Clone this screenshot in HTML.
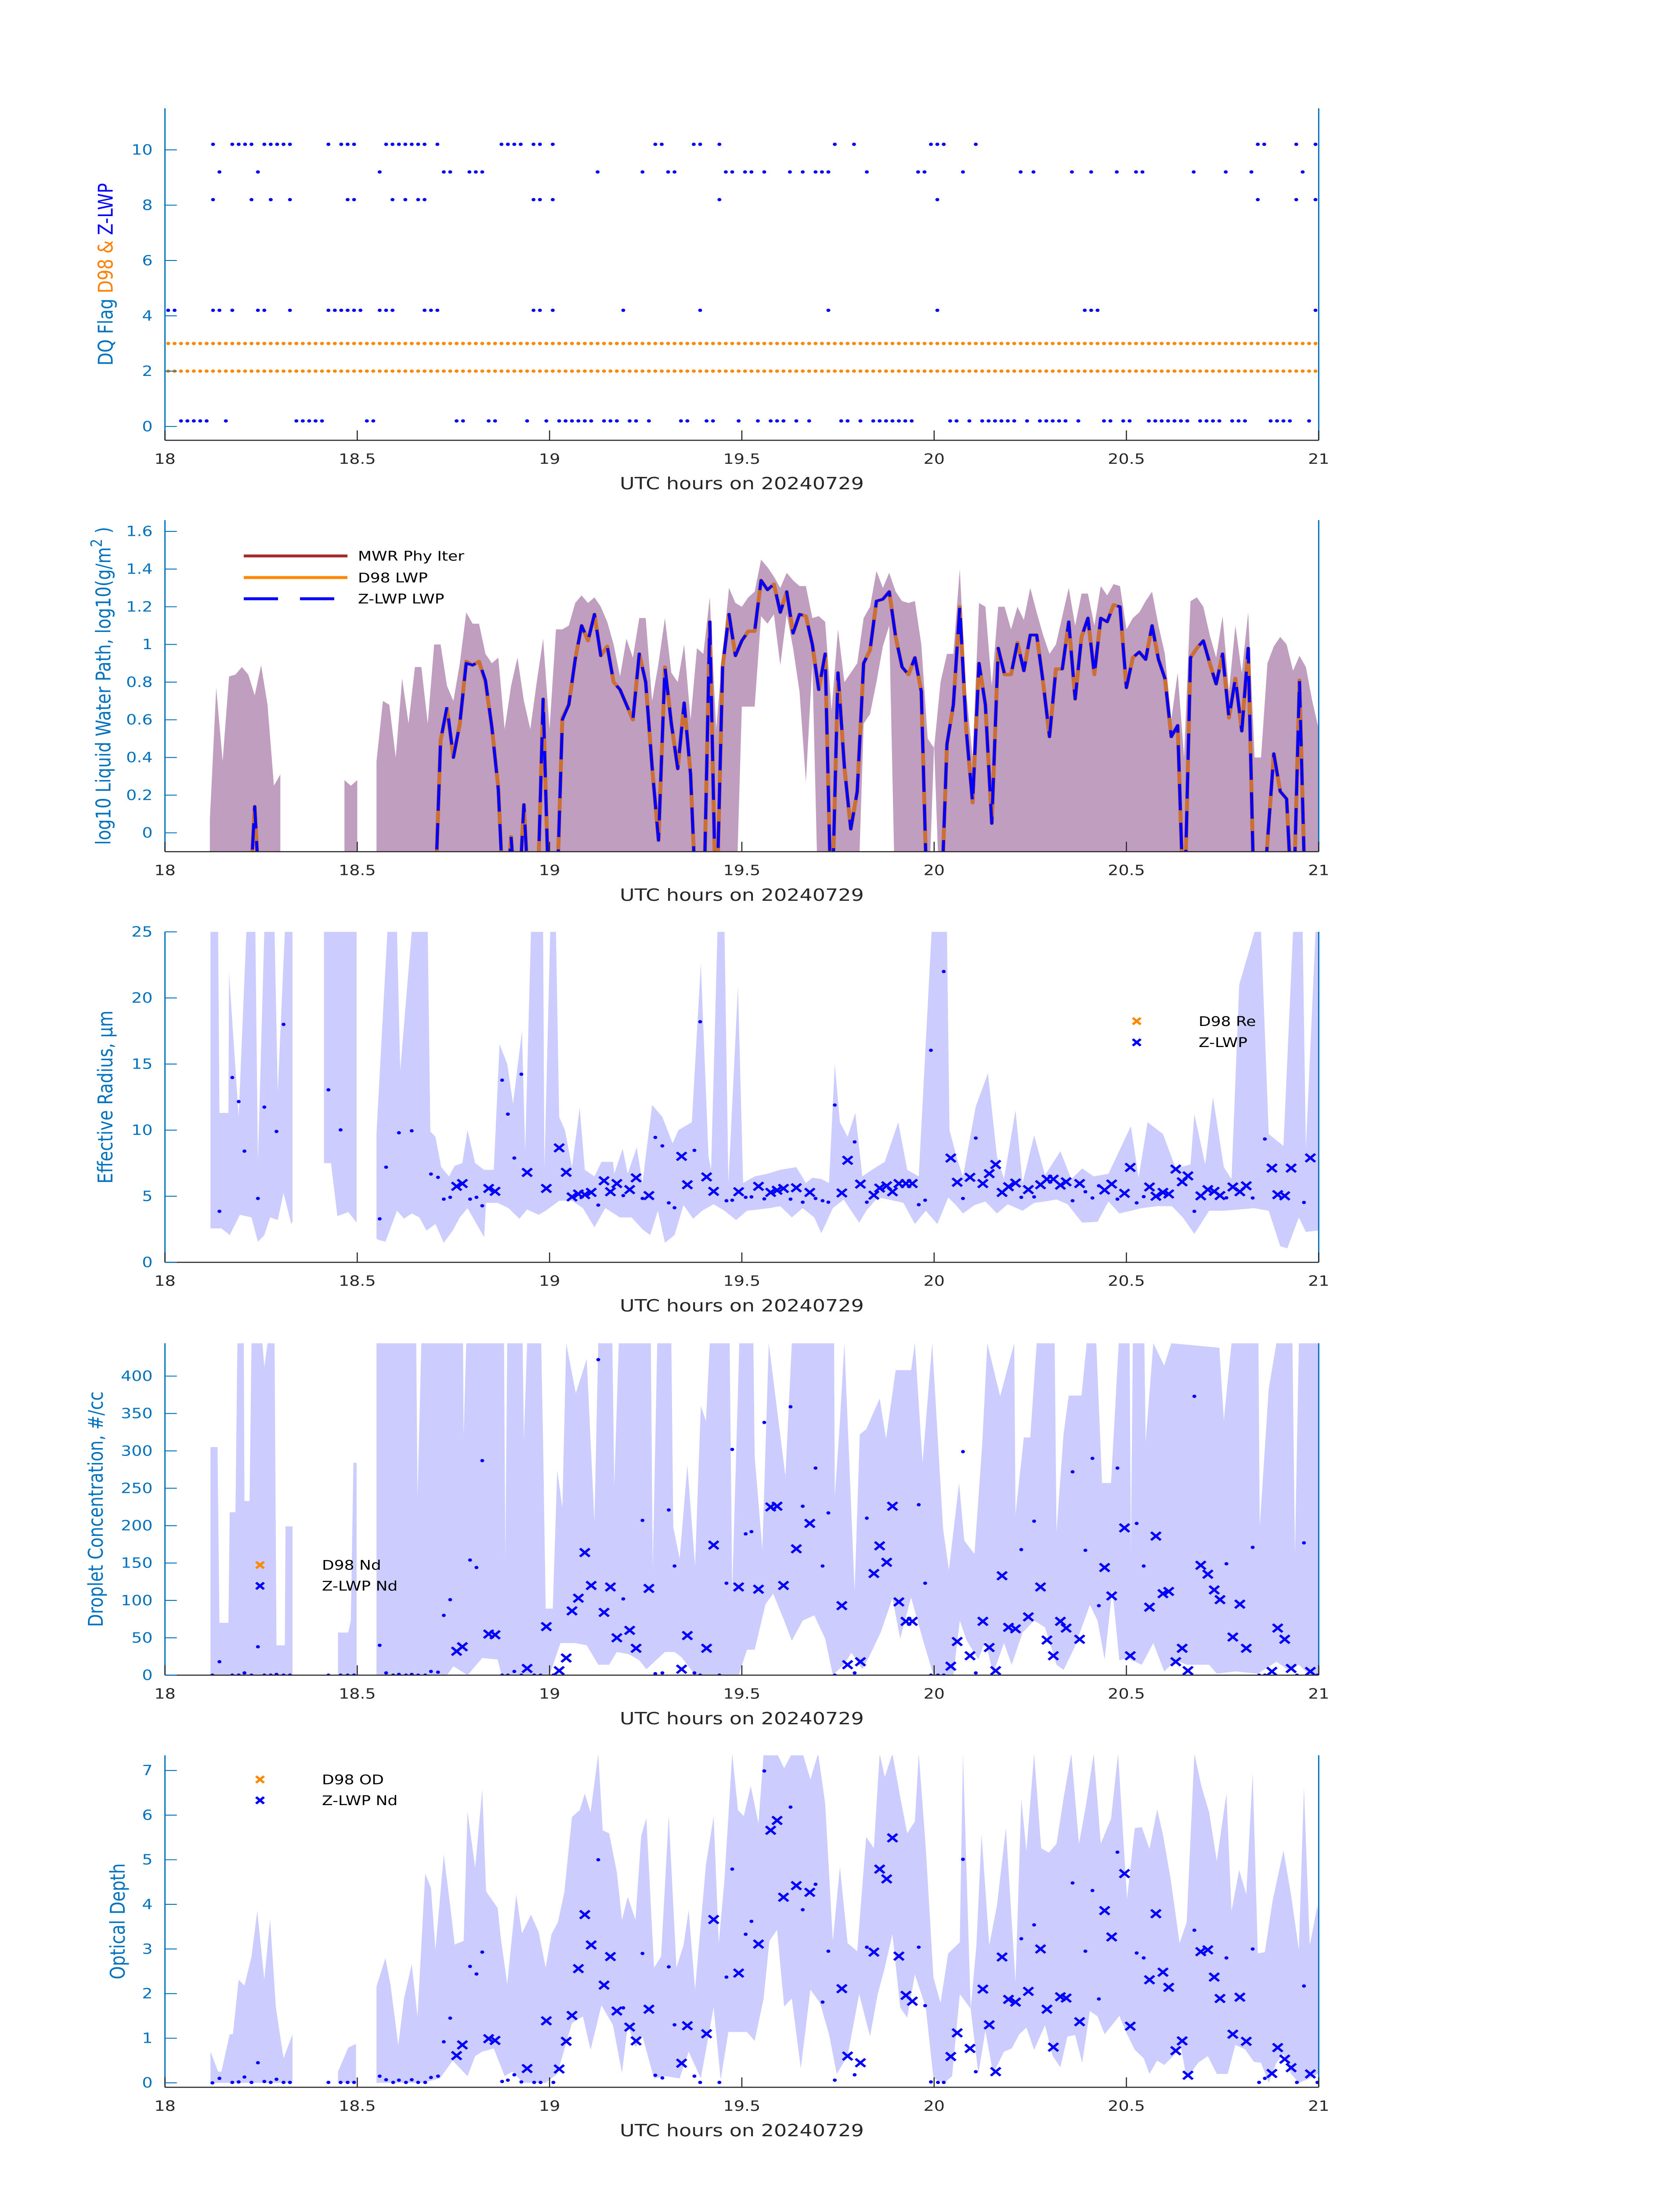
<!DOCTYPE html>
<html><head><meta charset="utf-8"><title>Cloud retrieval time series 20240729</title>
<style>
html,body{margin:0;padding:0;background:#fff;width:100%;height:100%;overflow:hidden;}
svg{display:block;position:absolute;left:0;top:0;width:100vw;height:100vh;font-family:"DejaVu Sans","Liberation Sans",sans-serif;}
</style></head>
<body>
<svg id="fig" viewBox="0 0 3825 6000" preserveAspectRatio="none" xmlns="http://www.w3.org/2000/svg">
<rect x="0" y="0" width="3825" height="6000" fill="#ffffff"/>
<defs id="defs"></defs>
</svg>
<script>
// ---------------- DATA (time in minutes after 18:00 UTC) ----------------
const xTickHours = [18,18.5,19,19.5,20,20.5,21];
const xTickLabels = ['18','18.5','19','19.5','20','20.5','21'];

// Panel 1: DQ flags
const zFlagLevels = [10.2, 9.2, 8.2, 4.2, 0.2];
const zFlag10Times = [7,10,11,12,13,15,16,17,18,19,25,27,28,29,34,35,36,37,38,39,40,42,52,53,54,55,57,58,60,76,77,82,83,86,104,107,119,120,121,126,170,171,176,179,180];
const zFlag9Times = [8,14,33,43,44,47,48,49,67,74,78,79,87,88,90,91,93,97,99,101,102,103,109,117,118,124,133,135,141,144,148,151,152,160,165,169,177];
const zFlag8Times = [7,13,16,19,28,29,35,37,39,40,57,58,60,86,120,170,176,179];
const zFlag4Times = [0,1,7,8,10,14,15,19,25,26,27,28,29,30,33,34,35,40,41,42,57,58,60,71,83,103,120,143,144,145,179,180];
const zFlag0Times = [2,3,4,5,6,9,20,21,22,23,24,31,32,45,46,50,51,56,59,61,62,63,64,65,66,68,69,70,72,73,75,80,81,84,85,89,92,94,95,96,98,100,105,106,108,110,111,112,113,114,115,116,122,123,125,127,128,129,130,131,132,134,136,137,138,139,140,142,146,147,149,150,153,154,155,156,157,158,159,161,162,163,164,166,167,168,172,173,174,175,178];
const d98FlagA = [3,3,3,3,3,3,3,3,3,3, 3,3,3,3,3,3,3,3,3,3, 3,3,3,3,3,3,3,3,3,3, 3,3,3,3,3,3,3,3,3,3, 3,3,3,3,3,3,3,3,3,3, 3,3,3,3,3,3,3,3,3,3, 3,3,3,3,3,3,3,3,3,3, 3,3,3,3,3,3,3,3,3,3, 3,3,3,3,3,3,3,3,3,3, 3,3,3,3,3,3,3,3,3,3, 3,3,3,3,3,3,3,3,3,3, 3,3,3,3,3,3,3,3,3,3, 3,3,3,3,3,3,3,3,3,3, 3,3,3,3,3,3,3,3,3,3, 3,3,3,3,3,3,3,3,3,3, 3,3,3,3,3,3,3,3,3,3, 3,3,3,3,3,3,3,3,3,3, 3,3,3,3,3,3,3,3,3,3, 3];
const d98FlagB = [2,2,2,2,2,2,2,2,2,2, 2,2,2,2,2,2,2,2,2,2, 2,2,2,2,2,2,2,2,2,2, 2,2,2,2,2,2,2,2,2,2, 2,2,2,2,2,2,2,2,2,2, 2,2,2,2,2,2,2,2,2,2, 2,2,2,2,2,2,2,2,2,2, 2,2,2,2,2,2,2,2,2,2, 2,2,2,2,2,2,2,2,2,2, 2,2,2,2,2,2,2,2,2,2, 2,2,2,2,2,2,2,2,2,2, 2,2,2,2,2,2,2,2,2,2, 2,2,2,2,2,2,2,2,2,2, 2,2,2,2,2,2,2,2,2,2, 2,2,2,2,2,2,2,2,2,2, 2,2,2,2,2,2,2,2,2,2, 2,2,2,2,2,2,2,2,2,2, 2,2,2,2,2,2,2,2,2,2, 2];

// Panel 2: log10 LWP, one value per minute (index = minute)
const zLwp = [null,null,null,null,null,null,null,null,null,null,
 null,null,null,-0.5,0.14,-0.5,null,null,null,null,
 null,null,null,null,null,null,null,null,null,null,
 null,null,null,null,null,null,null,null,null,null,
 null,null,-0.5,0.49,0.67,0.40,0.58,0.90,0.89,0.91,
 0.81,0.56,0.23,-0.5,-0.02,-0.5,0.15,-0.5,-0.5,0.71,
 -0.5,-0.5,0.60,0.68,0.92,1.10,1.02,1.16,0.94,0.99,
 0.80,0.76,0.68,0.60,0.95,0.80,0.35,-0.04,0.88,0.58,
 0.34,0.69,0.31,-0.5,-0.5,1.12,-0.5,0.88,1.16,0.94,
 1.02,1.07,1.07,1.34,1.29,1.32,1.17,1.28,1.06,1.16,
 1.15,1.00,0.76,0.95,-0.5,0.85,0.35,0.02,0.22,0.90,
 0.97,1.23,1.24,1.28,1.04,0.88,0.84,0.93,0.75,-0.5,
 -0.5,-0.5,0.47,0.68,1.20,0.55,0.16,0.90,0.68,0.05,
 0.98,0.84,0.84,1.01,0.86,1.05,1.05,0.80,0.51,0.87,
 0.87,1.12,0.71,1.04,1.14,0.84,1.14,1.12,1.21,1.20,
 0.77,0.93,0.96,0.92,1.10,0.92,0.82,0.51,0.57,-0.5,
 0.93,0.98,1.02,0.90,0.79,0.95,0.61,0.82,0.54,0.98,
 -0.5,-0.5,-0.05,0.42,0.22,0.18,-0.5,0.81,-0.5,-0.5,
 null];
const d98Lwp = [null,null,null,null,null,null,null,null,null,null,
 null,null,null,-0.5,0.14,-0.5,null,null,null,null,
 null,null,null,null,null,null,null,null,null,null,
 null,null,null,null,null,null,null,null,null,null,
 null,null,-0.5,0.49,0.66,0.40,0.58,0.91,0.89,0.91,
 0.80,0.56,0.24,-0.5,-0.02,-0.5,0.15,-0.5,-0.5,0.71,
 -0.5,-0.5,0.61,0.68,0.92,1.10,1.02,1.16,0.94,0.99,
 0.80,0.76,0.68,0.60,0.95,0.80,0.35,-0.04,0.88,0.58,
 0.34,0.69,0.31,-0.5,-0.5,1.12,-0.5,0.88,1.16,0.94,
 1.02,1.07,1.07,1.34,1.29,1.32,1.17,1.28,1.06,1.16,
 1.15,1.00,0.76,0.95,-0.5,0.85,0.35,0.02,0.22,0.90,
 0.97,1.23,1.24,1.28,1.04,0.88,0.84,0.93,0.75,-0.5,
 -0.5,-0.5,0.47,0.68,1.20,0.55,0.16,0.90,0.68,0.05,
 0.98,0.84,0.84,1.01,0.86,1.05,1.05,0.80,0.51,0.87,
 0.87,1.12,0.71,1.04,1.14,0.84,1.14,1.12,1.21,1.20,
 0.77,0.93,0.96,0.92,1.10,0.92,0.82,0.51,0.57,-0.5,
 0.93,0.98,1.02,0.90,0.79,0.95,0.61,0.82,0.54,0.98,
 -0.5,-0.5,-0.05,0.42,0.22,0.18,-0.5,0.81,-0.5,-0.5,
 null];
const lwpUpper = [null,null,null,null,null,null,null,0.07,0.77,0.38,
 0.83,0.84,0.88,0.84,0.73,0.89,0.68,0.25,0.31,null,
 null,null,null,null,null,null,null,null,0.28,0.25,
 0.28,null,null,0.38,0.70,0.68,0.40,0.82,0.58,0.88,
 0.88,0.58,1.00,1.00,0.78,0.70,0.90,1.17,1.11,1.11,
 0.95,0.90,0.93,0.55,0.78,0.93,0.70,0.55,0.80,1.03,
 0.55,1.08,1.08,1.10,1.22,1.26,1.22,1.25,1.20,1.12,
 1.00,0.83,1.03,0.93,1.14,1.14,0.70,0.90,1.14,0.85,
 0.80,1.00,0.60,0.98,0.95,1.25,0.55,0.95,1.30,1.22,
 1.20,1.25,1.28,1.45,1.41,1.36,1.30,1.38,1.34,1.31,
 1.31,1.14,1.15,1.12,0.65,1.08,0.80,0.85,0.90,1.14,
 1.20,1.39,1.30,1.38,1.28,1.23,1.22,1.23,1.00,0.50,
 0.45,0.80,0.95,0.95,1.40,0.75,0.40,1.22,1.20,0.78,
 1.20,1.20,1.08,1.20,1.13,1.30,1.17,1.05,0.95,1.00,
 1.15,1.30,1.10,1.27,1.27,1.10,1.31,1.26,1.32,1.31,
 1.08,1.14,1.17,1.23,1.28,1.10,0.95,0.60,0.85,0.40,
 1.23,1.25,1.20,1.05,0.93,1.15,0.75,1.10,0.85,1.17,
 0.40,0.40,0.90,0.99,1.04,1.00,0.86,0.94,0.88,0.70,
 0.55];
const lwpLower = [null,null,null,null,null,null,null,-0.5,-0.5,-0.5,
 -0.5,-0.5,-0.5,-0.5,-0.5,-0.5,-0.5,-0.5,-0.5,null,
 null,null,null,null,null,null,null,null,-0.5,-0.5,
 -0.5,null,null,-0.5,-0.5,-0.5,-0.5,-0.5,-0.5,-0.5,
 -0.5,-0.5,-0.5,-0.5,-0.5,-0.5,-0.5,-0.5,-0.5,-0.5,
 -0.5,-0.5,-0.5,-0.5,-0.5,-0.5,-0.5,-0.5,-0.5,-0.5,
 -0.5,-0.5,-0.5,-0.5,-0.5,-0.5,-0.5,-0.5,-0.5,-0.5,
 -0.5,-0.5,-0.5,-0.5,-0.5,-0.5,-0.5,-0.5,-0.5,-0.5,
 -0.5,-0.5,-0.5,-0.5,-0.5,-0.5,-0.5,-0.5,-0.5,-0.5,
 0.67,0.67,0.67,1.15,1.11,1.16,0.89,1.16,0.98,0.75,
 0.27,0.90,-0.5,-0.5,-0.5,-0.5,-0.5,-0.5,-0.5,0.58,
 0.63,0.80,0.99,1.10,-0.5,-0.5,-0.5,-0.5,-0.5,-0.5,
 0.47,-0.5,-0.5,-0.5,-0.5,-0.5,-0.5,-0.5,-0.5,-0.5,
 -0.5,-0.5,-0.5,-0.5,-0.5,-0.5,-0.5,-0.5,-0.5,-0.5,
 -0.5,-0.5,-0.5,-0.5,-0.5,-0.5,-0.5,-0.5,-0.5,-0.5,
 -0.5,-0.5,-0.5,-0.5,-0.5,-0.5,-0.5,-0.5,-0.5,-0.5,
 -0.5,-0.5,-0.5,-0.5,-0.5,-0.5,-0.5,-0.5,-0.5,-0.5,
 -0.5,-0.5,-0.5,-0.5,-0.5,-0.5,-0.5,-0.5,-0.5,-0.5,
 -0.5];

// Panels 3-5: Z-LWP retrieval crosses share these times
const crossTimes = [45.5,46.4,50.5,51.5,56.5,59.5,61.5,62.6,63.5,64.5,65.5,66.5,68.5,69.5,70.5,72.5,73.5,75.5,80.6,81.5,84.5,85.6,89.5,92.6,94.5,95.5,96.5,98.5,100.6,105.6,106.5,108.5,110.6,111.5,112.6,113.5,114.5,115.6,116.6,122.6,123.6,125.6,127.6,128.6,129.6,130.6,131.6,132.7,134.7,136.6,137.6,138.6,139.7,140.6,142.7,146.6,147.7,149.7,150.6,153.6,154.6,155.7,156.6,157.7,158.7,159.6,161.6,162.7,163.7,164.6,166.6,167.7,168.7,172.7,173.6,174.7,175.7,178.7];
const reCross = [5.75,5.96,5.59,5.37,6.8,5.59,8.66,6.81,4.95,5.17,5.12,5.29,6.17,5.34,5.96,5.5,6.39,5.05,8.02,5.87,6.46,5.37,5.34,5.75,5.29,5.45,5.59,5.64,5.29,5.25,7.72,5.92,5.08,5.62,5.79,5.34,5.96,5.96,5.96,7.89,6.06,6.43,5.96,6.71,7.4,5.29,5.72,6.0,5.5,5.87,6.29,6.29,5.84,6.09,5.96,5.47,5.92,5.22,7.18,5.70,5.0,5.29,5.17,7.05,6.09,6.54,5.03,5.5,5.37,5.05,5.7,5.34,5.79,7.13,5.12,5.03,7.13,7.9];
const ndCross = [32,38,55,54,9,65,6,23,86,103,164,120,84,118,50,60,36,116,8,53,36,174,118,115,225,226,120,169,203,93,14,18,136,173,151,226,98,72,72,12,45,26,72,37,6,133,64,62,78,118,47,26,72,63,48,144,106,197,26,91,186,109,112,18,36,6,147,135,114,101,51,95,36,5,63,48,9,5];
const odCross = [0.61,0.85,0.99,0.95,0.32,1.39,0.31,0.93,1.51,2.56,3.77,3.09,2.19,2.83,1.61,1.25,0.94,1.65,0.44,1.28,1.10,3.66,2.46,3.11,5.66,5.88,4.16,4.42,4.27,2.11,0.6,0.45,2.93,4.79,4.57,5.49,2.84,1.96,1.83,0.59,1.12,0.77,2.1,1.30,0.25,2.82,1.87,1.81,2.05,3.0,1.65,0.8,1.93,1.90,1.37,3.86,3.27,4.69,1.27,2.31,3.79,2.48,2.14,0.72,0.94,0.17,2.94,2.98,2.37,1.89,1.09,1.92,0.93,0.21,0.79,0.53,0.34,0.2];

// Small dots (low-quality retrievals)
const reDotTimes = [8.5,10.5,11.5,12.4,14.5,15.5,17.4,18.5,25.5,27.4,33.5,34.5,36.5,38.5,41.5,42.6,43.5,44.5,47.6,48.6,49.5,52.6,53.5,54.5,55.6,67.6,71.5,74.5,76.5,77.6,78.6,79.5,82.6,83.5,87.6,88.5,90.6,91.5,93.5,97.6,99.5,101.5,102.6,103.5,104.5,107.6,109.5,117.6,118.6,119.5,121.5,124.5,126.5,133.6,135.6,141.6,143.6,144.7,145.7,148.6,151.6,152.7,160.6,165.6,169.7,171.6,177.7,180.6];
const reDot = [3.86,13.98,12.16,8.41,4.83,11.74,9.9,18.0,13.05,10.02,3.29,7.2,9.8,9.95,6.68,6.43,4.78,4.92,4.78,4.92,4.28,13.78,11.21,7.89,14.23,4.33,5.05,4.83,9.45,8.81,4.5,4.13,8.47,18.2,4.66,4.70,4.92,4.95,4.8,4.78,4.55,4.83,4.66,4.55,11.9,9.11,4.55,4.36,4.70,16.04,22.0,4.83,9.4,4.92,4.95,4.66,5.34,4.87,5.79,4.78,4.5,4.97,3.86,4.88,4.87,9.33,4.53,22.25];
const dotTimes = [7.4,8.5,10.5,11.5,12.4,13.5,14.5,15.5,16.5,17.4,18.5,19.5,25.5,27.4,28.5,29.5,33.5,34.5,35.6,36.5,37.6,38.5,39.5,40.6,41.5,42.6,43.5,44.5,47.6,48.6,49.5,52.6,53.5,54.5,55.6,57.6,58.6,60.6,67.6,71.5,74.5,76.5,77.6,78.6,79.5,82.6,83.5,86.5,87.6,88.5,90.6,91.5,93.5,97.6,99.5,101.5,102.6,103.5,104.5,107.6,109.5,117.6,118.6,119.5,120.6,121.5,124.5,126.5,133.6,135.6,141.6,143.6,144.7,145.7,148.6,151.6,152.7,160.6,165.6,169.7,170.7,171.6,176.6,177.7,179.8,180.6];
const ndDot = [0,18,0,0,3,0,38,0,0,1,0,0,0,0,0,0,40,3,0,1,0,1,0,0,5,4,80,101,154,144,287,0,0,5,0,0,0,0,422,102,207,2,3,221,146,3,0,0,123,302,189,192,338,359,226,277,146,217,0,3,210,228,123,0,0,0,299,3,168,206,272,167,290,93,277,203,146,373,149,171,0,0,0,177,0,0];
const odDot = [0,0.1,0.01,0.02,0.13,0.01,0.45,0.03,0.01,0.08,0.01,0.01,0.01,0.01,0.01,0.01,0.15,0.07,0.01,0.06,0.01,0.07,0.01,0.01,0.12,0.15,0.92,1.45,2.61,2.44,2.93,0.03,0.06,0.18,0.02,0.01,0.01,0.01,5.0,1.68,2.9,0.17,0.11,2.6,1.3,0.15,0.01,0.01,2.37,4.79,3.33,3.62,6.99,6.18,3.88,4.45,1.81,2.95,0.06,0.18,3.04,3.04,1.73,0.02,0.01,0.01,5.01,0.25,3.23,3.54,4.48,2.95,4.31,1.88,5.17,2.91,2.8,3.42,2.8,3.0,0.01,0.1,0.01,2.17,0.01,0.01];

// Uncertainty bands [time, value]
const bandSegments = [[7.1,19.9],[24.8,29.9],[33,180.5]];
const reUpper = [[7.1,25],[8.3,25],[8.5,11.3],[9.9,11.3],[10,21.9],[11.5,11],[12.7,25],[14.1,25],[14.5,7.6],[15.5,25],[17.1,25],[17.6,12.9],[18.7,25],[19.9,25],
 [24.8,25],[29.9,25],
 [33,9.75],[34.7,25],[36.2,25],[36.7,14.5],[38.5,25],[41,25],[41.4,9.9],[42.2,9.5],[43.1,7.2],[44.3,6.5],[45.2,7.3],[46.4,7.5],[47.2,10],[48.4,7.5],[49.8,7],[51.3,7.0],[52.2,16.5],[53.4,15],[54.3,12],[55.7,17.5],[56.2,8.4],[57.1,25],[59,25],[59.2,7],[60.1,25],[61,25],[61.5,11],[62.4,10],[63.5,7.2],[64.7,11.7],[65.5,7.0],[67,6.5],[68.1,7.6],[69.9,7.6],[70.1,6.7],[71.4,8.6],[72.2,6.7],[73.6,8.7],[74.5,6],[76,11.9],[77.6,11],[79.2,9],[80.1,10],[82.2,10.6],[83.6,22.6],[84.8,8],[85.2,7],[86.2,25],[87.3,25],[87.9,6.0],[89.4,20.9],[90.2,6.0],[92,6.5],[94,6.7],[96,7.0],[98.5,7.2],[100,6.0],[101,6.4],[102.4,6.3],[103.6,6.0],[104.5,15],[105.3,10.6],[106.5,9.5],[107.7,11.3],[108.8,6.5],[110.3,7.0],[112.3,7.6],[114.4,10.6],[115.8,7.0],[117.6,6.5],[119.6,25],[122,25],[122.4,10],[123.6,7.8],[124.5,6.5],[126.5,11.8],[128.4,14.3],[129.8,8],[130.9,6.3],[132.7,11.5],[133.8,6.0],[135.6,9.6],[137.3,6.6],[139.7,8.4],[141.4,6.3],[143.1,7.1],[144.9,6.5],[147.2,6.7],[150.7,10.3],[151.9,6.4],[153.3,10.6],[155.7,9.7],[157.7,7.1],[160,7.4],[160.6,11.2],[162.3,7.4],[163.5,12.5],[165.2,7.2],[166.4,6.3],[167.6,21],[170,25],[171,25],[172.2,9.7],[174.5,8.8],[176,25],[177.5,25],[178,8.6],[179.5,25],[180.5,25]];
const reLower = [[7.1,2.57],[8.8,2.57],[10.1,2.06],[11.7,3.6],[13.5,3.4],[14.5,1.56],[15.5,2.06],[16.4,3.4],[17.6,3.2],[18.5,5.25],[19.7,2.9],
 [24.8,7.5],[25.9,7.5],[26.9,3.5],[28.6,3.8],[29.8,3.07],
 [33.3,1.7],[34.4,1.56],[36.2,3.9],[37.3,3.3],[38.5,3.7],[39.7,3.4],[40.8,2.4],[42.2,2.9],[43.5,1.48],[44.9,2.4],[46,3.4],[47.2,4.1],[49.8,1.9],[50.1,4.5],[51.9,4.5],[53.6,4.1],[55.3,3.3],[56.5,4.0],[58.3,3.6],[59.4,3.9],[61.5,4.66],[63.5,4.66],[65.2,4.1],[67,2.65],[68.7,4.1],[71,3.4],[72.8,3.4],[74.5,2.5],[75.7,2.06],[76.9,3.9],[78,1.48],[79.5,2.06],[80.9,4.33],[82.4,3.3],[83.8,3.9],[85.6,4.4],[87.3,3.9],[89.1,3.2],[90.8,3.9],[92.6,4.0],[94.3,4.1],[96,4.25],[97.8,3.4],[99.5,4.1],[101.3,3.4],[102.4,2.2],[104.2,4.1],[105.9,4.75],[108.3,3.0],[109.4,3.9],[111.2,4.9],[112.9,4.75],[115.2,4.5],[117,2.9],[118.7,3.9],[120.5,2.9],[122.2,4.9],[123.4,4.33],[124.5,3.7],[126.3,4.33],[128,4.6],[129.8,3.7],[131.5,4.4],[133.8,3.9],[135.6,4.5],[137.3,4.6],[139.1,4.75],[140.8,4.4],[143.1,3.0],[145.5,3.07],[147.2,4.6],[148.9,3.7],[150.7,3.9],[152.4,4.1],[154.8,4.25],[157.1,4.25],[158.8,3.4],[160.6,2.15],[162.9,3.9],[165.2,3.9],[167.6,4.0],[169.9,4.1],[172.2,3.9],[174,1.22],[175.1,1.06],[176.9,3.4],[178,2.3],[179.8,2.4],[180.5,2.4]];
const ndSegments = [[7.1,19.9],[27,29.9],[33,180.5]];
const ndUpper = [[7.1,305],[8.2,305],[8.5,70],[9.9,70],[10.1,218],[11,218],[11.3,444],[12.3,444],[12.4,233],[13.2,233],[13.5,444],[15.2,444],[15.5,412],[16,444],[17.1,444],[17.4,40],[18.7,40],[18.8,199],[19.9,199],
 [27,57],[28.6,57],[29,73],[29.4,284],[29.9,284],
 [33,444],[39.2,444],[39.4,238],[40,444],[46.5,444],[46.6,320],[47,444],[52.9,444],[53.1,155],[53.4,444],[55.8,444],[56,315],[56.5,444],[58.7,444],[59,308],[59.4,89],[60.5,89],[61.2,274],[62,224],[62.6,444],[64.1,377],[65.8,423],[67,205],[67.6,444],[69.8,444],[70.1,253],[70.8,444],[75.8,444],[76.1,142],[76.8,444],[79,444],[79.3,198],[80.3,156],[81.5,281],[82.7,146],[83.6,360],[84.4,340],[85,444],[88.1,444],[88.5,112],[89.6,444],[91.8,444],[92,293],[93.2,168],[94.2,444],[96.8,266],[97.8,444],[104.4,444],[104.5,239],[105.2,325],[106,444],[107.6,112],[108.4,322],[109.4,329],[111.5,370],[112.5,316],[114,408],[116.4,408],[117,444],[118.2,284],[119.7,444],[121.4,196],[122.3,141],[123.9,257],[124.7,180],[126.3,162],[127.5,309],[128.3,444],[130.3,373],[132.5,444],[132.7,215],[134,318],[135,318],[136,444],[138.8,444],[139.1,192],[140.2,323],[141,374],[143,374],[143.8,444],[145.3,444],[146.2,257],[147.6,257],[148.8,444],[150.5,444],[150.7,165],[151,444],[152.8,444],[153,312],[154.2,444],[155.9,414],[157,444],[164.5,438],[165.2,341],[166.4,444],[170.6,444],[170.8,198],[172.2,383],[173.4,444],[175.9,444],[176.3,162],[176.9,444],[180.5,444]];
const ndLower = [[7.1,0],[19.9,0],[27,0],[29.9,0],[33,0],[44,0],[45,12],[47.2,0],[49.5,23],[51.9,21],[52.5,0],[60,0],[61.7,43],[64,43],[65.8,40],[67.6,14],[69.3,14],[70.5,31],[72.4,28],[74,20],[75.1,8],[78,31],[79.5,31],[80.6,24],[82.7,0],[89.5,0],[90.8,34],[92,34],[93.7,95],[94.9,109],[96.6,73],[97.8,46],[99.5,73],[101.3,80],[103,49],[104.2,0],[105.9,14],[107.1,30],[108.8,8],[110,27],[111.7,58],[113.5,103],[114.7,49],[116.4,104],[118.2,49],[119.9,0],[123,0],[124,73],[125.1,46],[126.9,21],[128,46],[129.2,2],[130.9,43],[132.1,14],[133.8,57],[135.6,73],[137.3,64],[139.1,14],[140.2,7],[141.9,37],[144.3,94],[145.5,73],[146.6,21],[147.8,115],[148.9,20],[150.1,23],[152.4,14],[154.2,43],[155.9,5],[157.7,20],[159.4,14],[161.2,14],[162.9,14],[164.1,2],[167,5],[170.5,2],[173.4,18],[175.1,8],[176.9,14],[178.6,0],[180.5,0]];
const odSegments = [[7.1,19.9],[27,29.8],[33,180.5]];
const odUpper = [[7.1,0.7],[8.3,0.25],[8.8,0.25],[10.1,1.09],[10.6,1.09],[11.5,2.31],[12.4,2.18],[13.5,2.83],[14.4,3.85],[15.5,2.31],[16.4,3.67],[17.3,1.69],[18.5,0.55],[19.9,1.09],
 [27,0.25],[28.6,0.79],[29.8,0.87],
 [33,2.16],[34.4,2.8],[35.2,2.18],[36.4,0.84],[37.3,1.89],[38.5,2.66],[39.4,1.49],[40.6,4.69],[41.5,4.37],[42.2,2.98],[43.5,5.11],[44.5,3.97],[45.2,3.1],[46.6,3.18],[47.2,6.08],[48.4,4.82],[49.5,6.58],[50.1,4.29],[51.9,3.92],[52.4,3.24],[53.4,2.21],[54.8,4.22],[55.7,3.35],[57.1,3.77],[58.3,3.38],[59.4,2.58],[60.3,3.33],[61.3,3.6],[62.3,4.27],[63.5,5.96],[64.7,6.11],[65.5,6.48],[66.4,6.06],[67.6,7.38],[68.3,5.66],[69.3,5.59],[70.5,4.72],[71.3,3.65],[72.2,4.17],[73.4,3.65],[74.3,5.54],[75.1,5.93],[76.3,2.58],[77.4,2.83],[78.6,5.99],[79.8,2.58],[80.9,3.08],[81.7,3.87],[82.7,2.09],[84.4,4.89],[85.6,5.97],[86.4,3.13],[87.3,4.57],[88.5,7.38],[89.4,6.11],[90.3,5.98],[91.4,6.65],[92.6,5.81],[93.4,7.38],[95.5,7.38],[96.6,7.05],[97.8,7.38],[99.5,7.38],[100.7,6.8],[101.9,7.38],[103,6.26],[104.2,3.18],[105.3,4.84],[106.5,3.13],[108,2.95],[109.4,5.51],[110.6,5.26],[111.5,7.38],[112.3,6.85],[113.5,7.38],[114.7,6.41],[115.8,5.59],[117,5.86],[117.6,7.38],[118.7,5.26],[119.9,2.36],[121,1.79],[122.2,2.9],[124,3.15],[124.5,7.38],[125.7,1.66],[126.6,3.08],[127.4,5.57],[128.6,3.08],[129.8,3.97],[131.2,5.71],[132.7,2.26],[133.6,6.36],[134.4,5.19],[135.6,7.38],[136.7,5.26],[137.9,5.16],[139.1,5.36],[140.2,6.38],[141.4,7.38],[142.6,5.36],[143.7,6.23],[144.9,7.38],[146,5.36],[147.6,5.92],[148.7,7.38],[150.1,4.12],[151.3,5.71],[152.4,5.73],[153.6,5.24],[154.8,6.13],[155.7,5.56],[156.9,4.57],[158.3,3.13],[159.4,3.6],[160.6,7.38],[161.7,6.65],[162.9,6.06],[164.1,4.97],[165.6,6.48],[166.4,3.85],[167.6,4.77],[168.7,4.22],[169.7,6.94],[170.5,2.9],[171.6,2.93],[172.8,4.07],[174.5,5.21],[175.7,4.2],[176.9,2.98],[177.7,6.63],[178.6,3.08],[179.8,3.97],[180.5,3.0]];
const odLower = [[7.1,0],[19.9,0],[27,0],[29.8,0],[33,0],[40.2,0],[42.9,0.1],[44.9,0.5],[47.2,0.15],[48.4,0.6],[49.5,0.7],[51.3,0.77],[53,0.15],[54.2,0.25],[55.9,0],[59.4,0],[61.2,0.2],[63.5,1.34],[65.2,1.49],[66.4,0.74],[68.1,1.74],[69.9,1.29],[71.3,0.22],[72.2,1.29],[73.4,0.8],[74.5,1.04],[76.3,0.1],[78,0.15],[80.3,0.1],[81.7,0.7],[83.6,0.1],[85.6,1.69],[86.7,0.07],[87.9,1.14],[90.8,1.14],[92,0.94],[93.4,1.89],[94.3,3.18],[95.5,3.43],[96.6,1.71],[97.8,1.89],[99.2,0.32],[100.7,2.09],[102.2,1.79],[103.6,1.09],[104.8,0.2],[106.5,0.6],[108.3,1.99],[110,1.04],[111.2,1.99],[112.3,2.58],[113.5,3.33],[114.7,1.69],[115.8,1.46],[117,2.43],[118.7,1.69],[119.9,0.1],[121.6,0],[122.8,0.15],[124,1.99],[125.7,1.66],[126.9,0.2],[128,1.17],[129.2,0.2],[130.9,0.7],[132.1,0.77],[133.3,1.09],[134.4,1.24],[135.6,0.74],[137.3,1.29],[138.5,0.6],[139.7,0.35],[140.8,1.04],[142,1.07],[143.1,0.45],[144.3,1.61],[145.5,1.49],[146.6,1.09],[148.9,1.5],[150.1,1.09],[151.3,0.74],[152.7,0.55],[153.6,0.2],[154.8,0.5],[155.9,0.4],[157.3,0.6],[158.5,0.8],[159.4,0.1],[161.2,0.45],[162.7,0.6],[164.1,0.2],[165.8,0.2],[167,0.85],[168.5,0.75],[169.9,0.47],[171,0.45],[172.2,0],[173.4,0.45],[174.5,0.65],[175.7,0.2],[176.9,0],[178.6,0.1],[179.8,0.2],[180.5,0.2]];

// ---------------- DRAWING ----------------
const NS = 'http://www.w3.org/2000/svg';
const svg = document.getElementById('fig');
const defs = document.getElementById('defs');
function mk(tag, attrs, parent) {
  const e = document.createElementNS(NS, tag);
  for (const k in attrs) e.setAttribute(k, attrs[k]);
  (parent || svg).appendChild(e);
  return e;
}
const X0 = 375.6, X1 = 3002.4, TMAX = 180;
function xOf(m) { return X0 + (m / TMAX) * (X1 - X0); }
function xOfHour(h) { return xOf((h - 18) * 60); }
const AX_BLUE = '#0072BD', DARK = '#262626';
const TICK_FS = 38, LABEL_FS = 46;

function setupPanel(p) {
  const yOf = v => p.bot - (v - p.lo) / (p.hi - p.lo) * (p.bot - p.top);
  const g = mk('g', {});
  
  
  const cp = mk('clipPath', {id: 'clip-' + p.name}, defs);
  mk('rect', {x: X0, y: p.top, width: X1 - X0, height: p.bot - p.top}, cp);
  const plot = mk('g', {'clip-path': 'url(#clip-' + p.name + ')'}, g);
  
  
  const axg = mk('g', {}, g);
  
  
  return {g, plot, axg, yOf};
}
function drawAxes(p, P) {
  const {axg, yOf} = P;
  const xa = mk('line', {x1: X0, y1: p.bot, x2: X1, y2: p.bot, stroke: DARK, 'stroke-width': 3}, axg);
  
  
  const ya = mk('line', {x1: X0, y1: p.top, x2: X0, y2: p.bot, stroke: AX_BLUE, 'stroke-width': 3}, axg);
  
  
  const yr = mk('line', {x1: X1, y1: p.top, x2: X1, y2: p.bot, stroke: AX_BLUE, 'stroke-width': 3}, axg);
  
  
  xTickHours.forEach((h, i) => {
    const x = xOfHour(h);
    const t = mk('line', {x1: x, y1: p.bot, x2: x, y2: p.bot - 27, stroke: DARK, 'stroke-width': 2.5}, axg);
    
    
    const l = mk('text', {x: x, y: p.bot + 64, 'text-anchor': 'middle', 'font-size': TICK_FS, fill: DARK}, axg);
    l.textContent = xTickLabels[i];
    
    
  });
  p.yTicks.forEach((v, i) => {
    const y = yOf(v);
    const t = mk('line', {x1: X0, y1: y, x2: X0 + 27, y2: y, stroke: AX_BLUE, 'stroke-width': 2.5}, axg);
    
    
    const l = mk('text', {x: X0 - 28, y: y + 13, 'text-anchor': 'end', 'font-size': TICK_FS, fill: AX_BLUE}, axg);
    l.textContent = p.yTickLabels[i];
    
    
  });
  const xl = mk('text', {x: (X0 + X1) / 2, y: p.bot + 134, 'text-anchor': 'middle', 'font-size': LABEL_FS, fill: DARK}, axg);
  xl.textContent = 'UTC hours on 20240729';
  
  
  const cy = (p.top + p.bot) / 2;
  const yl = mk('text', {x: 0, y: 0, transform: 'translate(' + p.ylabelX + ',' + cy + ') rotate(-90)', 'text-anchor': 'middle', 'dominant-baseline': 'central', 'font-size': LABEL_FS, fill: AX_BLUE}, axg);
  
  
  p.ylabel(yl);
}
function tspan(parent, txt, attrs) {
  const s = mk('tspan', attrs || {}, parent);
  s.textContent = txt;
  return s;
}
function dot(parent, x, y, r, fill, name) {
  const c = mk('circle', {cx: x, cy: y, r: r, fill: fill}, parent);
  
  
  return c;
}
function cross(parent, x, y, s, color, name) {
  const c = mk('path', {d: 'M' + (x - s) + ' ' + (y - s) + 'L' + (x + s) + ' ' + (y + s) + 'M' + (x - s) + ' ' + (y + s) + 'L' + (x + s) + ' ' + (y - s), stroke: color, 'stroke-width': 6, fill: 'none'}, parent);
  
  
  return c;
}
function interp(list, t) {
  if (t <= list[0][0]) return list[0][1];
  for (let i = 1; i < list.length; i++) {
    if (t <= list[i][0]) {
      const a = list[i - 1], b = list[i];
      const f = (t - a[0]) / ((b[0] - a[0]) || 1);
      return a[1] + f * (b[1] - a[1]);
    }
  }
  return list[list.length - 1][1];
}
function pairBand(parent, upper, lower, segs, yOf, color, name) {
  segs.forEach(seg => {
    const up = upper.filter(q => q[0] >= seg[0] && q[0] <= seg[1]);
    if (!up.length) return;
    const a = up[0][0], b = up[up.length - 1][0];
    const lo = [[a, interp(lower, a)]].concat(lower.filter(q => q[0] > a && q[0] < b)).concat([[b, interp(lower, b)]]);
    let d = up.map((q, i) => (i ? 'L' : 'M') + xOf(q[0]).toFixed(1) + ' ' + yOf(q[1]).toFixed(1)).join('');
    for (let i = lo.length - 1; i >= 0; i--) d += 'L' + xOf(lo[i][0]).toFixed(1) + ' ' + yOf(lo[i][1]).toFixed(1);
    const e = mk('path', {d: d + 'Z', fill: color, stroke: 'none'}, parent);
    
    
  });
}

// ---------- Panel 1 ----------
(function () {
  const p = {name: 'dq-flag', top: 296, bot: 1203, lo: -0.5, hi: 11.5, yTicks: [0, 2, 4, 6, 8, 10], yTickLabels: ['0', '2', '4', '6', '8', '10'], ylabelX: 240,
    ylabel: t => { tspan(t, 'DQ Flag  ', {fill: AX_BLUE}); tspan(t, 'D98 & ', {fill: '#FF8000'}); tspan(t, ' Z-LWP', {fill: '#0000FF'}); }};
  const P = setupPanel(p);
  d98FlagA.forEach((v, m) => dot(P.plot, xOf(m + 0.5), P.yOf(v), 4.5, '#FF8800', 'd98-flag-point'));
  d98FlagB.forEach((v, m) => dot(P.plot, xOf(m + 0.5), P.yOf(v), 4.5, '#FF8800', 'd98-flag-point'));
  const lists = [zFlag10Times, zFlag9Times, zFlag8Times, zFlag4Times, zFlag0Times];
  lists.forEach((lst, k) => lst.forEach(m => dot(P.plot, xOf(m + 0.5), P.yOf(zFlagLevels[k]), 4.5, '#0000FF', 'z-lwp-flag-point')));
  drawAxes(p, P);
})();

// ---------- Panel 2 ----------
(function () {
  const p = {name: 'lwp', top: 1421, bot: 2327, lo: -0.1, hi: 1.66, yTicks: [0, 0.2, 0.4, 0.6, 0.8, 1, 1.2, 1.4, 1.6], yTickLabels: ['0', '0.2', '0.4', '0.6', '0.8', '1', '1.2', '1.4', '1.6'], ylabelX: 235,
    ylabel: t => { tspan(t, 'log10 Liquid Water Path, log10(g/m'); tspan(t, '2', {dy: -16, 'font-size': 36}); tspan(t, ' )', {dy: 16}); }};
  const P = setupPanel(p);
  let run = [];
  const flush = () => {
    if (run.length) {
      let d = run.map((m, i) => (i ? 'L' : 'M') + xOf(m).toFixed(1) + ' ' + P.yOf(lwpUpper[m]).toFixed(1)).join('');
      for (let i = run.length - 1; i >= 0; i--) d += 'L' + xOf(run[i]).toFixed(1) + ' ' + P.yOf(lwpLower[run[i]]).toFixed(1);
      const e = mk('path', {d: d + 'Z', fill: '#C09EBF'}, P.plot);
      
      
    }
    run = [];
  };
  lwpUpper.forEach((v, m) => { if (v === null) flush(); else run.push(m); });
  flush();
  function linePath(arr) {
    let d = '', pen = false;
    arr.forEach((v, m) => {
      if (v === null) { pen = false; return; }
      d += (pen ? 'L' : 'M') + xOf(m).toFixed(1) + ' ' + P.yOf(v).toFixed(1);
      pen = true;
    });
    return d;
  }
  const od = mk('path', {d: linePath(d98Lwp), fill: 'none', stroke: '#CC6F35', 'stroke-width': 9, 'stroke-linejoin': 'round', 'stroke-linecap': 'round'}, P.plot);
  
  
  const zl = mk('path', {d: linePath(zLwp), fill: 'none', stroke: '#0000FF', 'stroke-width': 7, 'stroke-dasharray': '72 34', 'stroke-linejoin': 'round'}, P.plot);
  
  
  drawAxes(p, P);
  const lg = mk('g', {});
  
  
  const items = [['MWR Phy Iter', '#A52A2A', null], ['D98 LWP', '#FF8800', null], ['Z-LWP LWP', '#0000FF', '78 50']];
  const ys = [1519, 1578, 1636];
  items.forEach((it, i) => {
    const a = {x1: 555, y1: ys[i], x2: 791, y2: ys[i], stroke: it[1], 'stroke-width': 8};
    if (it[2]) a['stroke-dasharray'] = it[2];
    const l = mk('line', a, lg);
    
    
    const t = mk('text', {x: 815, y: ys[i] + 13, 'font-size': 36, fill: '#000'}, lg);
    t.textContent = it[0];
    
    
  });
})();

// ---------- Panels 3-5 ----------
function retrievalPanel(p, upper, lower, segs, dTimes, dVals, cVals, legendPos, legendLabels) {
  const P = setupPanel(p);
  pairBand(P.plot, upper, lower, segs, P.yOf, '#CCCCFF', p.name + '-uncertainty-band');
  dTimes.forEach((t, i) => dot(P.plot, xOf(t), P.yOf(dVals[i]), 4.5, '#0000FF', p.name + '-point'));
  crossTimes.forEach((t, i) => cross(P.plot, xOf(t), P.yOf(cVals[i]), 11, '#0000FF', p.name + '-z-lwp-marker'));
  drawAxes(p, P);
  const lg = mk('g', {});
  
  
  const cols = ['#FF8800', '#0000FF'];
  legendLabels.forEach((lab, i) => {
    const y = legendPos.y[i];
    cross(lg, legendPos.mx, y, 9, cols[i], 'legend-marker');
    const t = mk('text', {x: legendPos.tx, y: y + 13, 'font-size': 36, fill: '#000'}, lg);
    t.textContent = lab;
    
    
  });
}
retrievalPanel({name: 'effective-radius', top: 2546, bot: 3449, lo: 0, hi: 25, yTicks: [0, 5, 10, 15, 20, 25], yTickLabels: ['0', '5', '10', '15', '20', '25'], ylabelX: 240,
  ylabel: t => { t.textContent = 'Effective Radius, \u03bcm'; }},
  reUpper, reLower, bandSegments, reDotTimes, reDot, reCross, {mx: 2588, tx: 2729, y: [2790, 2848]}, ['D98 Re', 'Z-LWP']);
retrievalPanel({name: 'droplet-concentration', top: 3670, bot: 4577, lo: 0, hi: 444, yTicks: [0, 50, 100, 150, 200, 250, 300, 350, 400], yTickLabels: ['0', '50', '100', '150', '200', '250', '300', '350', '400'], ylabelX: 218,
  ylabel: t => { t.textContent = 'Droplet Concentration, #/cc'; }},
  ndUpper, ndLower, ndSegments, dotTimes, ndDot, ndCross, {mx: 592, tx: 733, y: [4276, 4333]}, ['D98 Nd', 'Z-LWP Nd']);
retrievalPanel({name: 'optical-depth', top: 4796, bot: 5703, lo: -0.1, hi: 7.34, yTicks: [0, 1, 2, 3, 4, 5, 6, 7], yTickLabels: ['0', '1', '2', '3', '4', '5', '6', '7'], ylabelX: 268,
  ylabel: t => { t.textContent = 'Optical Depth'; }},
  odUpper, odLower, odSegments, dotTimes, odDot, odCross, {mx: 592, tx: 733, y: [4862, 4919]}, ['D98 OD', 'Z-LWP Nd']);
</script>
</body></html>
